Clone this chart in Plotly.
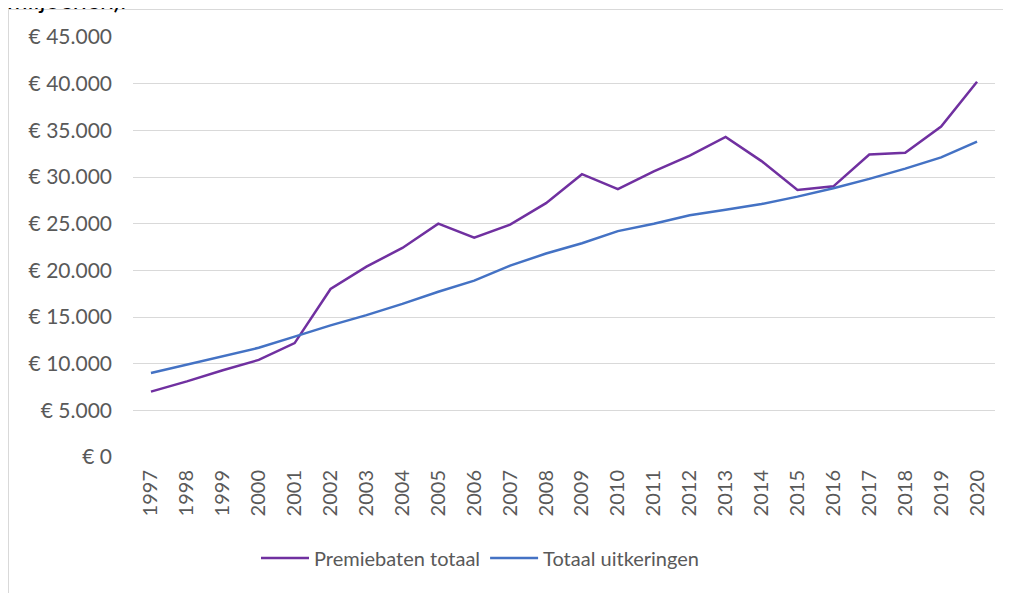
import plotly.graph_objects as go

years = [str(y) for y in range(1997, 2021)]
premiebaten = [7000, 8100, 9300, 10400, 12200, 18000, 20400, 22400, 25000, 23500,
               24900, 27200, 30300, 28700, 30600, 32300, 34300, 31700, 28600, 29000,
               32400, 32600, 35400, 40200]
uitkeringen = [9000, 9900, 10800, 11700, 12900, 14100, 15200, 16400, 17700, 18900,
               20500, 21800, 22900, 24200, 25000, 25900, 26500, 27100, 27900, 28800,
               29800, 30900, 32100, 33800]
tick_vals = list(range(0, 45001, 5000))
tick_text = ["€ 0"] + ["€ {:,}".format(v).replace(",", ".") for v in tick_vals[1:]]

OFF = 8  # page body margin
W, H = 1011 - OFF, 593 - OFF
L, R, T, B = 133 - OFF, 1011 - 995, 37 - OFF, 593 - 457
pw, ph = W - L - R, H - T - B

def px(x):
    return (x - OFF - L) / pw

def py(y):
    return (H - B - (y - OFF)) / ph

FONT = "Lato, Open Sans, sans-serif"

fig = go.Figure()
fig.add_trace(go.Scatter(x=years, y=premiebaten, mode="lines", name="Premiebaten totaal",
                         line=dict(color="#7030A0", width=2.5)))
fig.add_trace(go.Scatter(x=years, y=uitkeringen, mode="lines", name="Totaal uitkeringen",
                         line=dict(color="#4472C4", width=2.5)))

fig.update_layout(
    width=W, height=H,
    margin=dict(l=L, r=R, t=T, b=B),
    paper_bgcolor="white", plot_bgcolor="white",
    font=dict(family=FONT, size=20, color="#595959"),
    xaxis=dict(type="category", range=[-0.5, 23.5], tickangle=-90, showgrid=False,
               showline=False, zeroline=False, ticks="", ticklabelstandoff=8,
               tickfont=dict(size=20, color="#595959")),
    yaxis=dict(range=[0, 45000], tickvals=tick_vals, ticktext=tick_text, showgrid=True,
               gridcolor="#d9d9d9", gridwidth=1, zeroline=False, showline=False,
               ticks="", ticklabelstandoff=20, tickfont=dict(size=21, color="#595959")),
    showlegend=True,
    legend=dict(orientation="h", x=px(480), xanchor="center", y=py(558), yanchor="middle",
                font=dict(size=20, color="#595959"), itemwidth=48, traceorder="normal"),
    shapes=[
        dict(type="line", xref="paper", yref="paper", x0=px(8.5), x1=px(1030), y0=py(9.5), y1=py(9.5),
             line=dict(color="#d9d9d9", width=1)),
        dict(type="line", xref="paper", yref="paper", x0=px(8.5), x1=px(8.5), y0=py(9.5), y1=py(620),
             line=dict(color="#d9d9d9", width=1)),
    ],
    annotations=[
        dict(text="miljoenen).", xref="paper", yref="paper", x=px(5), y=py(16),
             xanchor="left", yanchor="bottom", showarrow=False,
             font=dict(size=25, color="#000000", family=FONT)),
    ],
)

fig.write_html("out.html")
